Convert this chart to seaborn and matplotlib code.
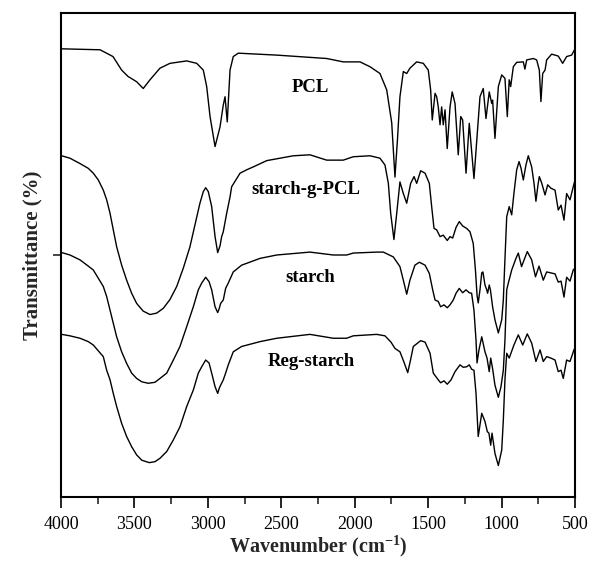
import numpy as np
import pandas as pd
import matplotlib
matplotlib.use("Agg")
import matplotlib.pyplot as plt
from matplotlib.ticker import MultipleLocator
import seaborn as sns

# FTIR spectra (wavenumber in cm-1, stacked transmittance in arbitrary %)
pcl_wn = [3995, 3734, 3646, 3587, 3544, 3485, 3440, 3394, 3326, 3258, 3144, 3076, 3031, 3008,
          2985, 2951, 2917, 2895, 2883, 2868, 2849, 2827, 2793, 2531, 2191, 2078, 1964, 1896,
          1828, 1782, 1748, 1726, 1709, 1692, 1669, 1646, 1624, 1578, 1533, 1499, 1483, 1472,
          1453, 1442, 1431, 1419, 1408, 1397, 1385, 1370, 1351, 1336, 1317, 1295, 1278, 1265,
          1242, 1220, 1188, 1147, 1125, 1106, 1084, 1067, 1061, 1045, 1022, 999, 977, 961, 948,
          938, 920, 897, 852, 841, 829, 784, 761, 743, 732, 720, 704, 693, 659, 614, 584, 557,
          523, 507, 500]
pcl_t = [92.6, 92.4, 91.0, 88.2, 86.9, 85.8, 84.4, 86.2, 88.6, 89.6, 90.1, 89.6, 88.2, 84.8,
         78.6, 72.4, 76.5, 81.0, 82.7, 77.5, 88.2, 91.0, 91.7, 91.3, 90.6, 89.9, 89.9, 88.9,
         87.5, 84.1, 77.3, 66.1, 73.8, 82.7, 87.9, 87.5, 88.6, 89.9, 89.6, 88.2, 84.1, 77.9,
         83.4, 82.7, 80.6, 76.9, 80.6, 76.9, 80.0, 72.0, 80.6, 83.7, 81.3, 70.7, 78.6, 77.9,
         66.9, 77.2, 65.8, 82.7, 84.4, 78.2, 83.7, 81.3, 82.0, 74.1, 84.8, 87.2, 86.5, 78.6, 86.2,
         84.8, 88.9, 89.8, 89.9, 88.4, 90.3, 90.6, 90.3, 88.2, 81.7, 87.5, 88.2, 90.3, 91.5, 91.1,
         89.6, 91.0, 91.3, 92.2, 92.6]

gpcl_wn = [3995, 3939, 3871, 3814, 3780, 3746, 3712, 3689, 3666, 3644, 3621, 3587, 3553, 3519,
           3485, 3440, 3394, 3348, 3303, 3258, 3212, 3167, 3122, 3088, 3054, 3031, 3015, 2997,
           2974, 2951, 2933, 2917, 2906, 2895, 2872, 2849, 2838, 2781, 2736, 2691, 2599, 2418,
           2305, 2191, 2078, 2010,
           1896, 1828, 1794, 1771, 1755, 1733, 1714, 1692, 1669, 1646, 1619, 1596, 1578, 1551,
           1521, 1492, 1476, 1460, 1442, 1419, 1397, 1370, 1351, 1333, 1310, 1288, 1265, 1238,
           1215, 1193, 1178, 1167, 1159, 1147, 1135, 1127, 1113, 1101, 1095, 1084, 1076, 1061,
           1045, 1022, 999, 988, 980, 965, 948, 931, 916, 897, 881, 868, 852, 834, 818, 795, 779,
           766, 752, 743, 727, 704, 686, 664, 636, 614, 595, 575, 557, 534, 512, 500]
gpcl_t = [70.5, 70.0, 68.9, 67.9, 66.9, 65.5, 63.4, 61.4, 58.6, 55.2, 51.7, 47.9, 44.8, 42.1,
          40.0, 38.4, 37.7, 38.0, 39.0, 40.8, 43.5, 47.3, 51.7, 56.2, 60.7, 63.1, 63.9, 63.1,
          60.0, 53.8, 50.5, 51.9, 53.8, 54.8, 58.6, 62.0, 64.1, 66.9, 67.6, 68.2, 69.5, 70.5,
          70.7, 69.6, 69.6, 70.3,
          70.5, 70.0, 68.6, 64.8, 58.6, 53.2, 58.6, 65.1, 62.7, 60.7, 64.8, 66.2, 64.8, 67.4,
          66.9, 64.8, 60.0, 55.5, 55.2, 53.8, 54.1, 53.0, 53.8, 53.5, 55.7, 56.9, 56.0, 55.5,
          54.8, 52.4, 46.9, 41.7, 40.1, 42.8, 46.3, 46.5, 43.8, 42.8, 42.1, 43.8, 42.8, 39.3,
          36.6, 33.9, 36.6, 40.7, 46.9, 57.9, 60.0, 58.3, 62.7, 67.6, 69.3, 68.0, 65.5, 68.6,
          70.5, 68.2, 64.8, 61.1, 64.5, 66.2, 64.9, 62.4, 64.5, 63.8, 63.4, 59.3, 60.3, 57.2,
          62.7, 61.4, 64.1, 65.5]

starch_wn = [3995, 3939, 3871, 3814, 3780, 3746, 3712, 3689, 3666, 3644, 3621, 3587, 3553, 3519,
             3485, 3450, 3406, 3360, 3326, 3280, 3235, 3190, 3144, 3099, 3065, 3042, 3015, 2992,
             2974, 2951, 2933, 2922, 2913, 2895, 2879, 2861, 2827, 2770, 2645, 2531, 2305, 2146,
             2055, 2010,
             1850, 1805, 1737, 1692, 1669, 1646, 1624, 1590, 1560, 1521, 1492, 1469, 1453, 1431,
             1415, 1392, 1370, 1351, 1329, 1310, 1288, 1265, 1242, 1220, 1204, 1188, 1174, 1167,
             1154, 1135, 1113, 1099, 1084, 1074, 1062, 1045, 1022, 1004, 988, 977, 965, 954, 931,
             902, 886, 864, 825, 795, 769, 745, 716, 693, 664, 636, 614, 595, 575, 557, 534, 512,
             500]
starch_t = [50.5, 50.0, 49.0, 47.7, 46.9, 45.2, 43.5, 41.4, 38.6, 35.9, 33.1, 30.0, 27.6, 25.6,
            24.5, 23.8, 23.5, 23.7, 24.5, 25.6, 28.3, 31.1, 35.2, 39.3, 42.8, 44.2, 45.4, 44.5,
            42.8, 39.3, 38.1, 39.0, 40.0, 40.7, 43.1, 44.2, 46.5, 47.9, 49.3, 50.0, 50.6, 50.0,
            50.0, 50.4,
            50.6, 50.6, 49.6, 47.6, 44.8, 41.9, 44.8, 47.9, 48.5, 47.9, 46.2, 42.8, 40.7, 40.4,
            39.3, 39.7, 39.1, 39.7, 40.7, 42.1, 43.1, 42.2, 42.8, 42.2, 42.1, 38.6, 32.4, 27.7,
            30.4, 33.1, 30.0, 28.7, 25.9, 28.7, 26.7, 23.1, 20.6, 22.8, 26.2, 32.4, 42.8, 44.2, 46.9,
            49.3, 50.4, 47.6, 50.7, 49.0, 45.5, 47.7, 44.8, 46.5, 46.3, 46.1, 44.4, 44.6, 41.3, 45.4,
            44.6, 46.9, 47.3]

reg_wn = [3995, 3939, 3871, 3814, 3780, 3746, 3712, 3689, 3666, 3644, 3621, 3587, 3553, 3519,
          3485, 3450, 3399, 3360, 3326, 3280, 3235, 3190, 3144, 3099, 3065, 3042, 3015, 2992,
          2974, 2951, 2933, 2922, 2913, 2895, 2879, 2861, 2827, 2770, 2645, 2531, 2305, 2146,
          2055, 2010,
          1850, 1794, 1753, 1726, 1692, 1665, 1639, 1620, 1601, 1551, 1521, 1487, 1465, 1431,
          1415, 1392, 1370, 1344, 1317, 1283, 1261, 1238, 1220, 1204, 1188, 1174, 1159, 1135,
          1113, 1097, 1086, 1074, 1065, 1045, 1022, 999, 988, 977, 965, 948, 916, 886, 856, 825,
          795, 766, 738, 716, 693, 664, 636, 614, 595, 580, 557, 534, 507, 500]
reg_t = [33.6, 33.3, 32.8, 32.1, 31.4, 30.2, 29.0, 26.2, 24.2, 21.4, 18.7, 15.2, 12.5, 10.4,
         8.7, 7.6, 7.1, 7.3, 8.0, 9.4, 11.8, 14.5, 18.7, 22.1, 25.6, 26.9, 28.3, 27.7,
         25.6, 22.8, 21.4, 22.5, 23.1, 24.2, 25.6, 27.3, 30.0, 31.1, 32.1, 32.8, 33.6, 32.8,
         32.8, 33.3,
         33.6, 33.3, 32.0, 30.7, 30.0, 27.9, 25.7, 28.3, 31.1, 32.3, 32.0, 29.7, 25.6, 24.2,
         23.6, 24.0, 23.3, 24.2, 25.9, 27.3, 26.8, 26.9, 27.3, 26.4, 26.2, 21.4, 12.5, 17.3,
         15.6, 13.5, 13.2, 10.7, 13.2, 9.0, 6.5, 9.7, 15.9, 24.2, 29.7, 28.7, 31.4, 33.5, 31.4,
         33.7, 31.8, 28.0, 30.4, 28.0, 29.0, 28.7, 28.3, 25.9, 26.2, 24.5, 28.3, 28.0, 30.4, 30.8]

# Sample names and where each name sits (wavenumber, transmittance)
names = ["PCL", "starch-g-PCL", "starch", "Reg-starch"]
name_wn = [2305, 2330, 2300, 2295]
name_t = [83.6, 62.5, 44.5, 27.0]

x_ticks = [4000, 3500, 3000, 2500, 2000, 1500, 1000, 500]

sns.set_style("ticks")
plt.rcParams["font.family"] = ["Liberation Serif", "DejaVu Serif"]
plt.rcParams["mathtext.fontset"] = "custom"
plt.rcParams["mathtext.rm"] = "Liberation Serif"
plt.rcParams["mathtext.bf"] = "Liberation Serif:bold"

fig = plt.figure(figsize=(5.92, 5.66), dpi=100)
ax = fig.add_axes([61 / 592, 1 - 497 / 566, (575 - 61) / 592, (497 - 13) / 566])

for wn, t in [(pcl_wn, pcl_t), (gpcl_wn, gpcl_t), (starch_wn, starch_t), (reg_wn, reg_t)]:
    df = pd.DataFrame({"wn": wn, "t": t})
    sns.lineplot(data=df, x="wn", y="t", ax=ax, color="black", lw=1.0,
                 estimator=None, sort=False)

for name, xw, yt in zip(names, name_wn, name_t):
    ax.text(xw, yt, name, ha="center", va="baseline", fontsize=13.5,
            fontweight="bold", color="black")

ax.set_xlim(4000, 500)
ax.set_ylim(0, 100)
ax.set_xticks(x_ticks)
ax.set_xticklabels([str(v) for v in x_ticks])
ax.xaxis.set_minor_locator(MultipleLocator(250))
ax.set_yticks([50])
ax.set_yticklabels([])
ax.tick_params(axis="x", which="major", direction="out", length=8, width=1.2,
               labelsize=13, pad=6, colors="black")
ax.tick_params(axis="x", which="minor", direction="out", length=5, width=1.2)
ax.tick_params(axis="y", which="major", direction="out", length=6, width=1.2)
for side in ["top", "right", "bottom", "left"]:
    ax.spines[side].set_visible(True)
    ax.spines[side].set_linewidth(1.5)
    ax.spines[side].set_color("black")

ax.set_xlabel(r"Wavenumber (cm$^{\mathbf{-1}}$)", fontsize=14.5, fontweight="bold", labelpad=0)
ax.set_ylabel("Transmittance (%)", fontsize=15, fontweight="bold", labelpad=4)

fig.savefig("out.png", dpi=100)
